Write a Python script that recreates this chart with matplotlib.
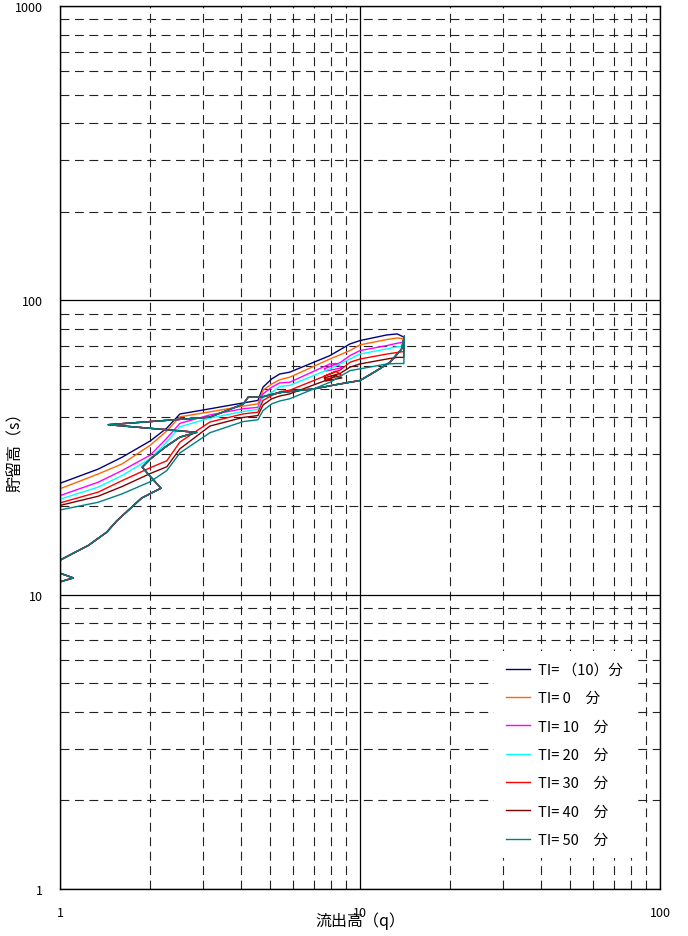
import matplotlib.pyplot as plt
from matplotlib.ticker import FixedLocator, LogLocator, NullFormatter, FixedFormatter

plt.rcParams['font.family'] = ['Noto Sans CJK JP', 'DejaVu Sans']

# 凡例と色
labels = ['TI= （10）分', 'TI= 0　分', 'TI= 10　分', 'TI= 20　分',
          'TI= 30　分', 'TI= 40　分', 'TI= 50　分']
colors = ['#000080', '#FF6600', '#FF00FF', '#00FFFF', '#FF0000', '#800000', '#008080']

# 上昇部 (全ケース共通)
rise_q = [0.9, 1.107, 0.9, 0.8, 0.9, 1.0, 1.243, 1.431, 1.545, 1.872, 2.17, 2.0, 1.88,
          2.0, 2.24, 2.51, 2.855, 1.449, 3.16, 4.08, 4.24, 4.7, 5.08, 5.41, 6.99,
          8.58, 10.0, 11.37, 12.59, 13.77, 14.05]
rise_s = [12.3, 11.4, 10.7, 11.5, 12.5, 13.1, 14.7, 16.3, 17.8, 21.3, 23.0, 25.2, 27.1,
          28.9, 31.7, 34.3, 35.6, 37.8, 40.1, 44.4, 46.9, 46.9, 47.9, 48.6, 50.0,
          52.0, 53.4, 57.7, 61.6, 68.4, 75.5]

# 低減部
fall_q = [14.0, 13.3, 12.3, 10.0, 9.26, 7.94, 5.83, 5.4, 5.08, 4.75, 4.57, 4.07,
          3.16, 2.51, 2.27, 2.0, 1.61, 1.34, 1.0, 0.9]
fall_s = [
    [75.0, 76.9, 76.3, 73.0, 71.1, 64.9, 57.0, 56.2, 54.1, 50.7, 45.7, 44.8, 42.8, 41.1, 36.8, 33.3, 29.3, 26.7, 23.9, 23.0],
    [74.0, 74.5, 73.6, 70.6, 67.5, 63.2, 54.8, 53.7, 52.0, 49.5, 44.5, 43.7, 41.8, 40.2, 36.0, 32.2, 27.8, 25.7, 22.9, 22.0],
    [72.0, 71.5, 70.2, 67.5, 64.9, 60.8, 52.7, 52.4, 50.7, 48.1, 43.3, 42.8, 40.8, 38.2, 34.0, 29.8, 26.4, 24.1, 21.7, 21.0],
    [70.0, 69.5, 68.4, 65.7, 63.2, 58.5, 51.4, 51.0, 48.7, 46.9, 42.6, 41.9, 39.8, 37.2, 33.0, 29.0, 25.4, 23.2, 21.1, 20.4],
    [67.0, 66.5, 65.7, 63.2, 61.6, 56.2, 49.5, 48.9, 47.5, 45.7, 41.7, 41.1, 38.6, 33.0, 28.5, 27.0, 24.4, 22.3, 20.5, 19.9],
    [64.0, 64.0, 63.2, 60.8, 59.3, 54.1, 48.1, 47.3, 46.3, 44.1, 40.6, 40.0, 37.4, 31.3, 27.2, 25.8, 23.3, 21.6, 20.1, 19.5],
    [61.0, 61.0, 60.8, 58.5, 57.7, 52.7, 46.3, 45.5, 44.5, 42.2, 39.3, 38.7, 35.5, 30.3, 26.4, 24.2, 22.0, 20.6, 19.4, 18.8],
]

# 2山目の小さなループ
loop_q = [8.6, 7.6, 7.7, 8.7, 8.3]
loop_s = {
    2: [61.5, 58.5, 57.5, 59.0, 61.0],
    4: [58.0, 55.3, 54.0, 55.5, 57.5],
    5: [56.5, 54.5, 53.2, 54.5, 55.5],
}

fig = plt.figure(figsize=(6.88, 9.37), dpi=100)
ax = fig.add_axes([60 / 688, 47 / 937, 600 / 688, 883 / 937])

for i in range(7):
    q = rise_q + fall_q[:5]
    s = rise_s + fall_s[i][:5]
    if i in loop_s:
        q = q + loop_q
        s = s + loop_s[i]
    q = q + fall_q[5:]
    s = s + fall_s[i][5:]
    ax.plot(q, s, color=colors[i], lw=1.0, label=labels[i])

ax.set_xscale('log')
ax.set_yscale('log')
ax.set_xlim(1, 100)
ax.set_ylim(1, 1000)

ax.xaxis.set_major_locator(FixedLocator([1, 10, 100]))
ax.xaxis.set_major_formatter(FixedFormatter(['1', '10', '100']))
ax.yaxis.set_major_locator(FixedLocator([1, 10, 100, 1000]))
ax.yaxis.set_major_formatter(FixedFormatter(['1', '10', '100', '1000']))
ax.xaxis.set_minor_locator(LogLocator(base=10, subs=range(2, 10)))
ax.yaxis.set_minor_locator(LogLocator(base=10, subs=range(2, 10)))
ax.xaxis.set_minor_formatter(NullFormatter())
ax.yaxis.set_minor_formatter(NullFormatter())
ax.tick_params(which='both', length=0)
ax.tick_params(axis='x', pad=12, labelsize=9)
ax.tick_params(axis='y', pad=12, labelsize=9)

ax.grid(which='major', color='black', lw=0.9, ls='-')
ax.grid(which='minor', color='#222222', lw=0.8, ls=(0, (8, 5)))
ax.set_axisbelow(True)
for sp in ax.spines.values():
    sp.set_color('black')
    sp.set_linewidth(1.0)

ax.set_xlabel('流出高（q）', fontsize=11.5)
ax.set_ylabel('貯留高（s）', fontsize=11.5)
ax.xaxis.set_label_coords(0.5, -0.035)
ax.xaxis.label.set_va('center')
ax.yaxis.set_label_coords(-0.06, 0.5)

leg = ax.legend(loc='center', bbox_to_anchor=(0.84, 0.152), fontsize=10.5,
                handlelength=1.7, handletextpad=0.5, labelspacing=0.98, borderpad=0.8,
                frameon=True, fancybox=False, framealpha=1,
                facecolor='white', edgecolor='none')

fig.savefig('out.png', dpi=100)
